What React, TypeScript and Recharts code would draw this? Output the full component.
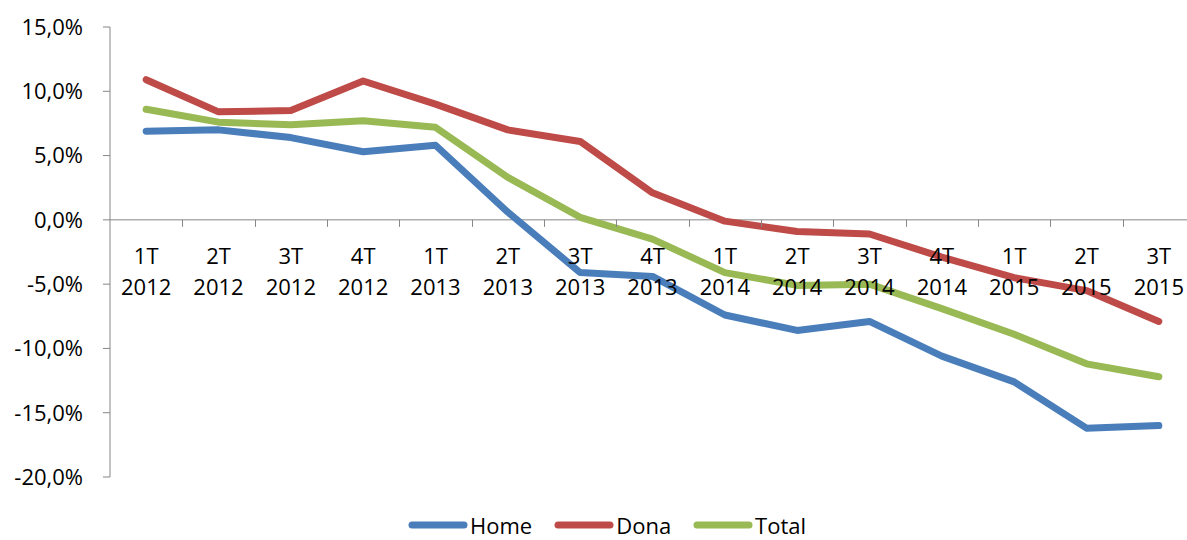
import { Legend, Line, LineChart, ReferenceLine, XAxis, YAxis } from "recharts";

const categories = [
  "1T 2012", "2T 2012", "3T 2012", "4T 2012",
  "1T 2013", "2T 2013", "3T 2013", "4T 2013",
  "1T 2014", "2T 2014", "3T 2014", "4T 2014",
  "1T 2015", "2T 2015", "3T 2015",
];

const home = [6.9, 7.0, 6.4, 5.3, 5.8, 0.6, -4.1, -4.4, -7.4, -8.6, -7.9, -10.6, -12.6, -16.2, -16.0];
const dona = [10.9, 8.4, 8.5, 10.8, 9.0, 7.0, 6.1, 2.1, -0.1, -0.9, -1.1, -2.9, -4.5, -5.5, -7.9];
const total = [8.6, 7.6, 7.4, 7.7, 7.2, 3.3, 0.2, -1.5, -4.1, -5.1, -5.0, -6.9, -8.9, -11.2, -12.2];

const yTicks = [-20, -15, -10, -5, 0, 5, 10, 15];

const data = categories.map((cat, i) => ({
  cat,
  home: home[i],
  dona: dona[i],
  total: total[i],
}));

const W = 1195;
const H = 540;
const TOP = 27;
const LEFT = 110;
const XAXIS_H = 1;
const LEGEND_H = 62;
const PLOT_H = H - TOP - LEGEND_H - XAXIS_H;
const BAND = (W - LEFT) / categories.length;
const ZERO_Y = TOP + (PLOT_H * 15) / 35;
const AXIS = "#868686";
const FONT = "Open Sans";

const series = [
  { key: "home", name: "Home", color: "#4A7EBB" },
  { key: "dona", name: "Dona", color: "#BE4B48" },
  { key: "total", name: "Total", color: "#98B954" },
];

function CatTick(props: any) {
  const { x, payload } = props;
  const label = String(payload.value);
  const idx = categories.indexOf(label);
  const [q, year] = label.split(" ");
  const bx = Math.round(Number(x) + BAND / 2) + 0.5;
  return (
    <g>
      {idx < categories.length - 1 && (
        <line x1={bx} x2={bx} y1={ZERO_Y} y2={ZERO_Y + 7} stroke={AXIS} strokeWidth={1} />
      )}
      <text x={x} y={ZERO_Y + 44} textAnchor="middle" fontSize={22} fontFamily={FONT} fill="#000">
        {q}
      </text>
      <text x={x} y={ZERO_Y + 75} textAnchor="middle" fontSize={22} fontFamily={FONT} fill="#000">
        {year}
      </text>
    </g>
  );
}

function LegendBox() {
  return (
    <div
      style={{
        height: LEGEND_H,
        display: "flex",
        alignItems: "flex-end",
        paddingLeft: 408,
        boxSizing: "border-box",
        fontFamily: FONT,
        fontSize: 22,
        color: "#000",
      }}
    >
      <div style={{ display: "flex", alignItems: "center", height: 30 }}>
        {series.map((s) => (
          <div key={s.key} style={{ display: "flex", alignItems: "center", marginRight: 22 }}>
            <svg width={60} height={10} style={{ marginRight: 2 }}>
              <line x1={4} x2={56} y1={5} y2={5} stroke={s.color} strokeWidth={7} strokeLinecap="round" />
            </svg>
            <span style={{ lineHeight: "30px" }}>{s.name}</span>
          </div>
        ))}
      </div>
    </div>
  );
}

export default function App() {
  return (
    <div
      style={{
        position: "absolute",
        left: 0,
        top: 0,
        width: 1187,
        height: H,
        overflow: "hidden",
        background: "#fff",
        fontFamily: FONT,
      }}
    >
      <LineChart width={W} height={H} data={data} margin={{ top: TOP, right: 0, bottom: 0, left: 0 }}>
        <YAxis
          width={LEFT}
          domain={[-20, 15]}
          ticks={yTicks}
          allowDataOverflow
          axisLine={{ stroke: AXIS }}
          tickLine={{ stroke: AXIS }}
          tickSize={7}
          tickMargin={20}
          tick={{ fill: "#000", fontSize: 22, fontFamily: FONT }}
          tickFormatter={(v: number) => v.toFixed(1).replace(".", ",") + "%"}
        />
        <ReferenceLine y={0} stroke={AXIS} />
        {series.map((s) => (
          <Line
            key={s.key}
            type="linear"
            dataKey={s.key}
            name={s.name}
            stroke={s.color}
            strokeWidth={7}
            strokeLinecap="round"
            strokeLinejoin="round"
            dot={false}
            activeDot={false}
            isAnimationActive={false}
          />
        ))}
        <XAxis
          dataKey="cat"
          height={XAXIS_H}
          padding={{ left: BAND / 2, right: BAND / 2 }}
          axisLine={false}
          tickLine={false}
          interval={0}
          tick={(p: any) => <CatTick {...p} />}
        />
        <Legend verticalAlign="bottom" height={LEGEND_H} content={() => <LegendBox />} />
      </LineChart>
    </div>
  );
}
